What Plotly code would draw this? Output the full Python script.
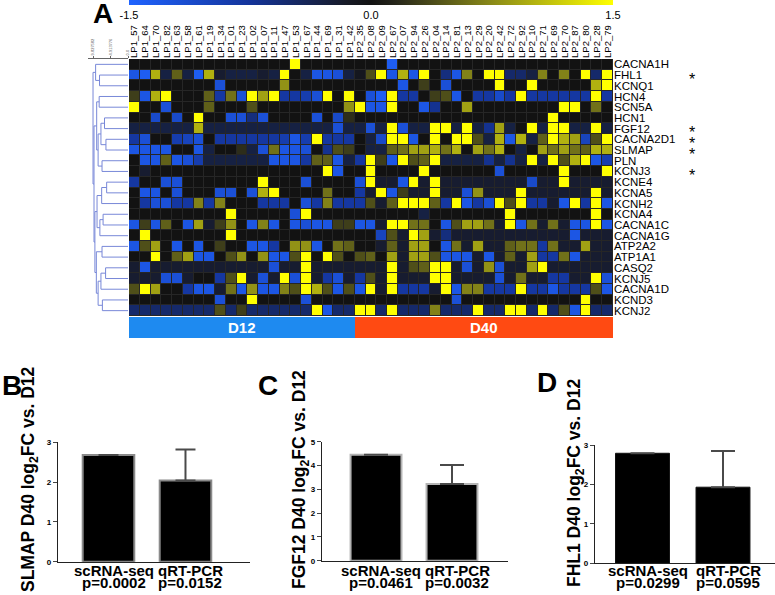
import plotly.graph_objects as go

# ---- panel A: heatmap data ----
genes = ["CACNA1H", "FHL1", "KCNQ1", "HCN4", "SCN5A", "HCN1", "FGF12", "CACNA2D1",
         "SLMAP", "PLN", "KCNJ3", "KCNE4", "KCNA5", "KCNH2", "KCNA4", "CACNA1C",
         "CACNA1G", "ATP2A2", "ATP1A1", "CASQ2", "KCNJ5", "CACNA1D", "KCND3", "KCNJ2"]

samples = ["LP1_57", "LP1_64", "LP1_70", "LP1_82", "LP1_63", "LP1_58", "LP1_61", "LP1_19",
           "LP1_34", "LP1_01", "LP1_23", "LP1_02", "LP1_07", "LP1_11", "LP1_47", "LP1_53",
           "LP1_67", "LP1_44", "LP1_69", "LP1_31", "LP1_42",
           "LP2_35", "LP2_08", "LP2_09", "LP2_67", "LP2_07", "LP2_94", "LP2_26", "LP2_04",
           "LP2_14", "LP2_81", "LP2_13", "LP2_29", "LP2_20", "LP2_42", "LP2_72", "LP2_92",
           "LP2_10", "LP2_71", "LP2_69", "LP2_70", "LP2_87", "LP2_80", "LP2_28", "LP2_79"]

group_names = {"LP1": "D12", "LP2": "D40"}

expr = [
    [0, 0, 0, 0, 0, 0, 0, 0, 0, 0, 0, 0, 0, 0, 0, 1.5, 0, 0, 0, 0, 0, 0, 0, 0, -1.4,
     0, 0, 0, 0, 0, 0, 0, 0, 0, 0, 0, 0, 0, 0, 0, 0, 0, 0, 0, 0],
    [-1.3, -1.4, 1.0, -0.3, 0.5, -0.3, -1.4, 1.0, -0.2, -0.3, -0.3, -0.3, -0.2, -0.3, 1.5,
     0, -0.3, -1.3, -1.3, -1.2, -0.3, -0.1, 0.4, 1.5, -1.3, 1.0, -1.3, 1.5, 0, -0.6,
     -1.3, 0.7, 0, 1.5, 1.5, -0.5, -0.5, -0.3, 0.7, 0, 0.7, 0, 1.5, -0.5, 1.5],
    [0, 0, 0, 0, 0, 0, 0, 0, -1.2, 0, 0, 0, 0, 0, 0.8, 0, 0, 0, 0, 0, 0, 0, 0, 0, 0,
     -1.3, 0, 0.3, 0, -1.2, 0, 0, 0, 0, 1.5, 0, 0, 1.5, 0, 0, 0, 0, 0, 1.0, 1.5],
    [0.3, -1.3, 1.0, 1.5, 0, 0, 0, 0.5, -0.8, 0.6, -1.2, 1.5, 0.9, 1.5, -0.8,
     -0.8, -0.9, -1.2, 1.5, 0, 1.5, 0, -1.2, -1.4, 1.5, -0.8, -0.8, 0, 0.3, 0.4,
     -1.3, 0, -0.8, -0.8, -1.1, -0.8, 1.5, -0.8, -0.8, -0.8, -0.8, -0.8, -0.8, 1.5, -0.8],
    [1.5, 0, 0, -1.2, 0, 0, 0, 0.5, 0, 0, 0, 0.4, 0, 0, 0, 0, 0, 0, 0, 0,
     0.8, 1.5, -1.3, -1.3, 1.5, 0, 0, -1.3, -0.7, 0, 0, 0.9, 0, 0, 0,
     0, 0, 0, 0, 0, 1.5, 1.5, 0, 0.6, 0],
    [0, 0, -1.1, 0, -1.1, 0, 1.5, 0, 0, -1.2, -1.2, -0.6, -1.2, 0, 0, 0, 0, -1.2, 0, -1.1,
     0.2, 0, 0, 0, 0, 0, 0, 0, 0, 0, 0, 0, 0, 0, 0, 0, 0, 0, 0, 1.5, 0, 0, 0, 0, 0],
    [-0.3, -0.3, -0.3, -0.3, -0.3, -0.3, 1.0, -0.3, -0.3, -0.3, -0.3, -0.3, -0.3, -0.3, -0.3,
     -0.3, -0.3, -0.3, -0.3, -1.2, -0.3, -0.3, -1.2, -0.3, 1.5, -1.2, -0.3, -0.3, 1.5, 1.5,
     -0.3, 1.5, -0.3, -0.7, 0.9, -0.3, 0, 1.5, -0.3, 1.5, 1.5, -0.3, -0.3, 1.5, -0.3],
    [-0.8, -1.2, 0, 0, -0.9, -1.0, -1.2, 0, -0.8, -0.8, -0.8, -0.8, -0.8, -0.8, -0.9,
     -1.3, -0.9, 1.5, -0.8, -0.8, -0.8, 0, -0.3, -1.1, 1.5, 1.5, -1.3, 0, 1.5, 0,
     1.5, 1.5, 0.4, -0.3, 1.0, -1.3, 1.0, -0.3, 0.5, 1.5, 1.0, 0.9, -1.0, 0.4, 1.5],
    [-1.3, -1.3, -1.3, -1.3, 0, 0, -1.3, -0.3, 0, 0, 0.2, -0.3, -1.2, 0.6, -1.3,
     -1.3, -1.2, 0, -0.7, 0.4, 0.3, 0, -0.3, -0.3, 0.5, 0.6, 0.9, 0.9, 1.0, 0.6,
     1.0, 0, 0.9, 0.6, 1.0, 0, -0.3, 0, 0.9, 0.6, 0.9, 0.6, 0.5, 1.0, 1.0],
    [0, -1.3, -1.3, 0.5, -1.3, -1.2, -0.9, -0.3, -0.3, -0.3, -0.3, -0.3, -0.3, -1.3, -1.3,
     -1.3, -0.8, 0.5, 0.5, -1.3, -0.3, -0.8, 1.5, 0.3, -1.3, 1.5, 0.4, 0.5, 1.5, -0.3,
     -0.3, -0.3, -0.3, -0.7, -0.3, -0.7, -0.3, 1.5, -0.3, 1.5, 0.4, 1.0, 1.5, -1.3, -0.9],
    [0, -0.2, 0, 0, 0, 0, 0, 0, 0, 0, 0, 0, 0, 0, 0, 0, 0, 0, 1.5, -1.3,
     0, 0, 1.5, 0, 0, 0, 0, 1.5, 0, 0, 0, 0, 0, 0, -1.2, 0, 0, 0, 0, 0, 1.5, 0, 0, 0, 1.5],
    [-0.8, 0, 0, -1.2, -1.2, 0, 0, 0, 0, 0, 0, 0, 1.5, 0, 0, 0, -1.2, 0, 0, 0,
     0, -1.2, 1.5, -0.2, -0.2, -1.3, 1.5, -0.2, 1.5, -0.2, -0.2, -0.2, -0.2, -0.2, -0.2,
     -0.2, -0.2, -1.1, -0.2, -0.2, 1.5, -0.2, -0.2, -0.2, -0.2],
    [0, -1.3, -1.3, 0, -1.2, 0, 0, 0, -1.2, -1.2, 0, -1.2, 1.0, 1.5, 0, 0, 0, 0, 0.6, 0,
     0, -0.8, -0.2, 1.5, -1.3, 0.3, -0.2, -0.2, 1.5, -0.2, -0.2, -1.2, 0.8, -0.2, -0.2,
     -0.2, 1.5, -0.2, -0.2, -0.2, -0.2, -0.2, -0.2, 1.5, -0.2],
    [0, -0.8, -1.2, -1.2, -0.8, -0.8, 0.7, -0.8, 0.7, 0, 0, 0, -0.8, -0.8, -0.8,
     0, -1.2, -0.8, 0.7, -0.8, -0.8, -0.8, 0.4, -0.2, 0.5, 1.5, 1.5, 1.5, 0.5, -0.8,
     1.5, -1.3, -0.8, -1.2, 1.5, 0.4, 1.5, -0.8, -0.8, -0.2, -1.3, 1.5, -0.8, 1.5, -1.3],
    [0, 0, 0, 0, 0, 0, 0, 0, 0, 1.5, 0, 0, 0, 0, 0, -1.2, 1.5, 0, 0, 0,
     0, 0, 0, 0, 0, 0, 0, -0.3, 0, 0, 0, 0, 0, 0, 0, 1.5, 0, 0, 0, 0, 0, 0, 0, 1.5, 0],
    [-1.3, 0.3, -1.3, 0.5, 0, -1.3, 0.9, -0.2, 0.3, 0.8, 0, -1.3, 0.7, -1.3, 0,
     -1.3, -1.2, -1.3, -1.3, 0.3, 0.3, -1.3, -1.3, -0.2, 1.5, 1.5, 0.6, 0.6, 0, -1.3,
     0.4, 0.9, 0.9, 0.6, -0.2, 1.5, -1.3, 0.6, -0.2, 0.6, -0.2, -1.3, -1.3, 1.5, -1.3],
    [0, 1.5, 0, 0, 0, 0, 0, 0, 0, 1.5, 0, 0, 0, 0, 0, 0, 0, 0, 0, 0,
     0, 0, 0, -1.0, 0.4, -0.2, 1.5, 0.9, -0.2, -0.6, -0.2, -0.2, -0.2, -0.2, -0.2,
     -0.2, -0.2, -0.2, -0.2, -0.2, -0.2, -1.3, -0.2, -0.2, -0.2],
    [-1.3, 0.4, 0.9, 0, -1.3, 0, -1.3, 0, 0.3, 0, 0, -1.3, -1.3, -0.8, 0,
     0.8, 0.8, -1.3, 0, 0.6, 0.5, 0, 0, -0.2, 0.5, -0.2, 0.9, 0.9, 0, -1.3,
     0.6, -0.2, 0.9, -0.2, -0.2, 0.5, 0.6, 0.6, -0.8, 0.6, -0.2, -0.2, 0.9, -0.2, -0.2],
    [0, 0, 1.5, 0, 0.5, 0.9, -1.3, -1.3, 0, 0.4, 0.8, 0, 0.8, -1.3, -1.3,
     0.4, 1.5, 0, 1.5, 0.4, 0, 0.4, 0.5, 0, 0.9, -0.2, 0.9, 0.9, 0.4, -1.3,
     -1.3, -1.3, -0.2, -1.3, -0.2, 0.5, -0.2, 0.9, -0.8, -0.8, 0.6, -1.3, -0.2, -0.2, -0.2],
    [-0.2, -1.3, -0.2, -0.2, -0.2, -0.2, -0.2, -0.2, -0.2, -0.2, -0.2, -0.2, -0.2, -1.2, -0.2,
     -0.2, 1.5, -0.2, -0.2, -0.2, -0.2, -0.2, -0.2, -0.2, 1.5, -0.2, 0.4, 0.5, 1.5, 1.5,
     -0.2, -1.2, -0.2, 0.8, -1.2, -0.2, -0.2, 0.9, 1.5, -0.2, -0.2, -0.2, -0.2, -0.2, -0.2],
    [-0.2, -0.2, -0.2, -1.2, -1.2, -0.2, 0, 0, -0.8, 0.4, 1.5, -0.2, -1.2, -0.2, 1.5,
     -1.2, 1.5, -0.2, -0.8, -1.2, -0.2, -0.8, 0.4, -0.2, 1.5, -0.2, -0.2, -0.2, 1.5, 1.5,
     -0.2, -0.2, -0.2, -0.2, -1.2, -0.2, 0.6, -0.2, -0.2, -0.8, -0.8, -0.2, -0.2, 1.5, -1.2],
    [0.4, 1.5, 0.9, 0, 0, -0.8, -1.3, -1.3, -0.2, 0.6, -1.3, 0.8, -1.3, -1.3, 0.7,
     0.4, 1.5, 1.0, 0.4, -1.3, 0.4, -1.3, 1.5, -0.2, 1.5, -0.8, -0.8, -0.8, -0.2, 1.5,
     -1.3, 0.7, 0.7, -0.8, -0.8, -0.8, 1.5, -0.8, -0.8, -1.3, -0.8, -0.8, -0.8, 0.4, -1.3],
    [0, 0, 0, 0, 0, 0, 0, 0, -1.2, 0, 0, 1.5, 0, 0, 0, 0, -1.2, 0, 0, 0,
     0, 0, 0, 0, 0, 0, 0, 0, 0, 0, -1.2, 0, 0, 0, 0, 0, 0, 0, 0, 0, 0, 0, 1.5, 0, 0],
    [-0.5, -0.5, -0.5, -0.5, -0.5, -0.5, -0.5, -0.5, 0.4, -0.5, 0.3, -0.5, -0.5, -0.5, -0.5,
     -0.5, -0.5, 1.5, -1.3, -0.5, -0.5, 1.5, 1.5, -0.5, 1.5, -0.5, -0.5, -0.5, 0.7, -0.5,
     -0.5, -0.5, 1.5, -0.5, -0.5, 1.5, 1.5, -0.5, 1.5, -0.5, 0.4, -1.3, 1.5, -0.5, -0.5],
]

cbar_ticks = [-1.5, 0.0, 1.5]
cbar_text = ["-1.5", "0.0", "1.5"]
starred = ["FHL1", "FGF12", "CACNA2D1", "SLMAP", "KCNJ3"]

# hierarchical clustering of the rows: (left, right, height); new clusters numbered from 24
dendro_links = [
    (1, 2, 8.0), (0, 24, 9.1), (3, 4, 8.1), (5, 6, 6.6), (7, 8, 6.2), (27, 28, 7.6),
    (9, 10, 7.3), (29, 30, 8.4), (26, 31, 8.8), (11, 12, 6.0), (33, 13, 7.4),
    (14, 15, 7.0), (35, 16, 7.9), (34, 36, 8.7), (17, 18, 7.3), (19, 20, 6.3),
    (39, 21, 7.6), (22, 23, 7.2), (40, 41, 8.4), (38, 42, 8.9), (37, 43, 9.3),
    (32, 44, 9.55), (25, 45, 9.83),
]
dendro_ticks = [9.827582, 4.913776, 0.0]
dendro_ticktext = ["9.827582", "4.913776", "0.0"]

# ---- panels B-D ----
methods = ["scRNA-seq", "qRT-PCR"]
slmap_fc = [2.68, 2.04]
slmap_err = [None, 0.78]
slmap_p = ["0.0002", "0.0152"]
fgf12_fc = [4.45, 3.22]
fgf12_err = [None, 0.80]
fgf12_p = ["0.0461", "0.0032"]
fhl1_fc = [2.79, 1.93]
fhl1_err = [None, 0.92]
fhl1_p = ["0.0299", "0.0595"]

FONT = "Liberation Sans, Arial, sans-serif"
W, H = 775, 595


def px(x):
    return x / W


def py(y):
    return 1 - y / H


fig = go.Figure()

# main heatmap
fig.add_trace(go.Heatmap(
    z=expr, x=samples, y=genes, zmin=-1.5, zmax=1.5, xgap=1, ygap=1,
    colorscale=[[0, "#1f63ff"], [0.25, "#14349a"], [0.45, "#171a26"], [0.5, "#121212"],
                [0.55, "#25251a"], [0.75, "#8a8a18"], [1, "#ffff00"]],
    colorbar=dict(orientation="h", x=px(129), xanchor="left", len=484 / W,
                  y=1, yanchor="top", thickness=5, xpad=0, ypad=0, outlinewidth=0,
                  tickvals=cbar_ticks, ticktext=cbar_text, ticks="",
                  tickfont=dict(size=11, color="black", family=FONT)),
    xaxis="x", yaxis="y", hoverinfo="skip"))

# group strip
groups = [group_names[s.split("_")[0]] for s in samples]
fig.add_trace(go.Heatmap(
    z=[[0 if g == "D12" else 1 for g in groups]], x=samples, y=["group"],
    zmin=0, zmax=1, showscale=False,
    colorscale=[[0, "#1e8af0"], [0.5, "#1e8af0"], [0.5, "#ff4a12"], [1, "#ff4a12"]],
    xaxis="x", yaxis="y2", hoverinfo="skip"))

# dendrogram
n = len(genes)
pos = {i: (float(i), 0.0) for i in range(n)}
dx, dy = [], []
for k, (a, b, h) in enumerate(dendro_links):
    ya, ha = pos[a]
    yb, hb = pos[b]
    dx += [ha, h, h, hb, None]
    dy += [ya, ya, yb, yb, None]
    pos[n + k] = ((ya + yb) / 2, h)
fig.add_trace(go.Scatter(x=dx, y=dy, mode="lines", line=dict(color="#7888d8", width=1),
                         xaxis="x2", yaxis="y3", hoverinfo="skip", showlegend=False))

# bar panels
panels = [
    (slmap_fc, slmap_err, "x3", "y4", "#8a8a8a", 2, 10),
    (fgf12_fc, fgf12_err, "x4", "y5", "#b4b4b4", 2, 12),
    (fhl1_fc, fhl1_err, "x5", "y6", "#111111", 1, 12),
]
for vals, errs, xa, ya, lc, lw, cw in panels:
    fig.add_trace(go.Bar(
        x=methods, y=vals, width=0.67, marker=dict(color="black", line=dict(color=lc, width=lw)),
        error_y=dict(type="data", array=errs, arrayminus=[0, 0], symmetric=False,
                     color="#4a4a4a", thickness=2, width=cw),
        xaxis=xa, yaxis=ya, showlegend=False, hoverinfo="skip"))

hm_y = [py(316), py(59)]
fig.update_layout(
    width=W, height=H, margin=dict(l=0, r=0, t=0, b=0, autoexpand=False),
    paper_bgcolor="white", plot_bgcolor="white",
    font=dict(family=FONT, color="black"),
    showlegend=False,
    xaxis=dict(domain=[px(129), px(613)], anchor="y", side="top", tickangle=-90,
               tickmode="array", tickvals=samples, ticktext=samples,
               tickfont=dict(size=9.5), ticks="", showgrid=False, zeroline=False,
               showline=False),
    yaxis=dict(domain=hm_y, anchor="x", side="right", autorange="reversed",
               tickmode="array", tickvals=genes, ticktext=genes,
               tickfont=dict(size=11.5), ticks="", showgrid=False, zeroline=False),
    yaxis2=dict(domain=[py(338), py(317)], anchor="x", visible=False),
    xaxis2=dict(domain=[px(88), px(128)], anchor="y3", side="top", range=[11.24, 0],
                tickvals=dendro_ticks, ticktext=dendro_ticktext,
                tickangle=-90, tickfont=dict(size=4, color="#555"), ticks="outside", ticklen=2,
                tickcolor="#666", showline=True, linecolor="#666", linewidth=0.6,
                showgrid=False, zeroline=False),
    yaxis3=dict(domain=hm_y, anchor="x2", range=[n - 0.5, -0.5], visible=False),
)

bar_axes = [
    ("xaxis3", "yaxis4", "x3", "y4", [58, 250], [-0.656, 1.838], [442.3, 561.7], 3),
    ("xaxis4", "yaxis5", "x4", "y5", [322, 508], [-0.711, 1.737], [441.7, 560.7], 5),
    ("xaxis5", "yaxis6", "x5", "y6", [595, 775], [-0.59, 1.646], [445.0, 563.3], 3),
]
for xk, yk, xa, ya, xd, xr, yd, ymax in bar_axes:
    fig.update_layout({
        xk: dict(domain=[px(xd[0]), px(xd[1])], anchor=ya, range=xr, showline=True,
                 linecolor="#222", linewidth=1.2, ticks="", showgrid=False, zeroline=False,
                 showticklabels=False),
        yk: dict(domain=[py(yd[1]), py(yd[0])], anchor=xa, range=[0, ymax], dtick=1,
                 showline=True, linecolor="#222", linewidth=1.2, ticks="outside",
                 ticklen=4, tickwidth=1, tickfont=dict(size=8, weight="bold"),
                 showgrid=False, zeroline=False),
    })

# dark background behind heatmap cells (grid lines)
fig.add_shape(type="rect", xref="x domain", yref="y domain", x0=0, x1=1, y0=0, y1=1,
              fillcolor="#262626", line_width=0, layer="below")

ann = []
for g in ["D12", "D40"]:
    idx = [i for i, s in enumerate(groups) if s == g]
    ann.append(dict(x=(idx[0] + idx[-1]) / 2, y=0, xref="x", yref="y2", text="<b>%s</b>" % g,
                    showarrow=False, font=dict(size=15, color="white")))
for gname in starred:
    ann.append(dict(x=px(697), y=gname, xref="paper", yref="y", text="*", showarrow=False,
                    yshift=-4, font=dict(size=16)))
for letter, x, y in [("A", 103, 13), ("B", 12, 385), ("C", 268, 385), ("D", 547, 382)]:
    ann.append(dict(x=px(x), y=py(y), xref="paper", yref="paper", xanchor="center",
                    yanchor="middle", text="<b>%s</b>" % letter, showarrow=False,
                    font=dict(size=28)))
for gname, x, y in [("SLMAP", 29, 479), ("FGF12", 300, 480), ("FHL1", 575, 483)]:
    ann.append(dict(x=px(x), y=py(y), xref="paper", yref="paper", textangle=-90,
                    xanchor="center", yanchor="middle",
                    text="<b>%s D40 log<sub>2</sub>FC vs. D12</b>" % gname,
                    showarrow=False, font=dict(size=17.5)))
# category labels with p-values under each bar
for xa, pv in [("x3", slmap_p), ("x4", fgf12_p), ("x5", fhl1_p)]:
    for m, p in zip(methods, pv):
        ann.append(dict(x=m, y=py(560), xref=xa, yref="paper", yanchor="top", xshift=5,
                        text="<b>%s</b>" % m, showarrow=False, font=dict(size=15)))
        ann.append(dict(x=m, y=py(572), xref=xa, yref="paper", yanchor="top", xshift=5,
                        text="<b>p=%s</b>" % p, showarrow=False, font=dict(size=15)))
fig.update_layout(annotations=ann)

# the page body has a default 8px margin; drop it so the figure sits at the window origin
fig.write_html("out.html", config={"displayModeBar": False},
               post_script="document.body.style.margin = '0';")
